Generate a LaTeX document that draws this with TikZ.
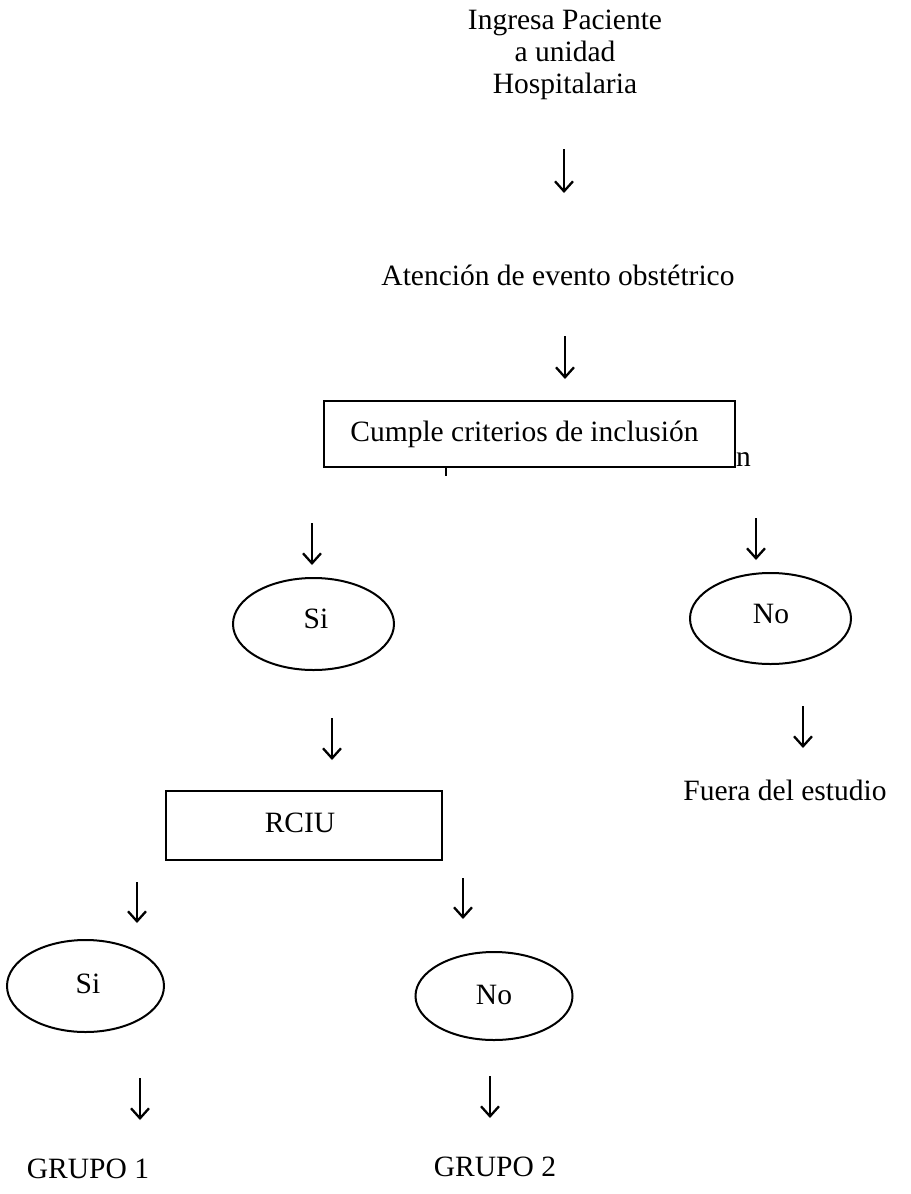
\documentclass[tikz,border=0pt]{standalone}
\usepackage{fontspec}
\setmainfont{Liberation Serif}
\usetikzlibrary{shapes.geometric,arrows.meta}
\begin{document}
\begin{tikzpicture}[x=1bp,y=-1bp,
  every node/.style={font=\fontsize{29.5bp}{32bp}\selectfont, inner sep=0pt},
  txt/.style={anchor=base},
  boxnode/.style={draw, line width=1.8bp, fill=white, rectangle},
  oval/.style={draw, line width=2bp, ellipse},
  arr/.style={line width=2.3bp, -{Straight Barb[length=10bp,width=18bp,line width=2.3bp]}}
]
\useasboundingbox (0,0) rectangle (911,1194);
% top text
\node[align=center, anchor=north] (ingresa) at (565,10) {Ingresa Paciente\\a unidad\\Hospitalaria};
\coordinate (a1s) at (564,149); \coordinate (a1e) at (564,193);
\draw[arr] (a1s) -- (a1e);
\node[txt] (atencion) at (558,285) {Atención de evento obstétrico};
\coordinate (a2s) at (565,336); \coordinate (a2e) at (565,379);
\draw[arr] (a2s) -- (a2e);
% fragment of a hidden line peeking out behind the box
\node[anchor=base west] (hiddenn) at (736,466) {n};
\node[boxnode, minimum width=411bp, minimum height=66bp] (cumple) at (529.5,434) {};
\coordinate (pdesc1) at (446,468); \coordinate (pdesc2) at (446,476);
\draw[line width=2bp] (pdesc1) -- (pdesc2);
\node[txt] (cumpletxt) at (524.5,441) {Cumple criterios de inclusión};
% branches
\coordinate (a3s) at (312,523); \coordinate (a3e) at (312,565);
\draw[arr] (a3s) -- (a3e);
\coordinate (a4s) at (756,518); \coordinate (a4e) at (756,560);
\draw[arr] (a4s) -- (a4e);
\node[oval, minimum width=161bp, minimum height=92bp] (si1) at (313.5,624) {};
\node[txt] (si1t) at (316,628) {Si};
\node[oval, minimum width=161bp, minimum height=91bp] (no1) at (770.5,618.5) {};
\node[txt] (no1t) at (771,623) {No};
\coordinate (a5s) at (332,718); \coordinate (a5e) at (332,760);
\draw[arr] (a5s) -- (a5e);
\coordinate (a6s) at (803,706); \coordinate (a6e) at (803,748);
\draw[arr] (a6s) -- (a6e);
\node[txt] (fuera) at (785,800) {Fuera del estudio};
% RCIU
\node[boxnode, minimum width=276bp, minimum height=69bp] (rciu) at (304,825.5) {};
\node[txt] (rciut) at (300,832) {RCIU};
\coordinate (a7s) at (137,882); \coordinate (a7e) at (137,923);
\draw[arr] (a7s) -- (a7e);
\coordinate (a8s) at (463,878); \coordinate (a8e) at (463,919);
\draw[arr] (a8s) -- (a8e);
\node[oval, minimum width=157bp, minimum height=92bp] (si2) at (85.5,986) {};
\node[txt] (si2t) at (88,993) {Si};
\node[oval, minimum width=157bp, minimum height=88bp] (no2) at (494,996) {};
\node[txt] (no2t) at (494,1004) {No};
\coordinate (a9s) at (140,1078); \coordinate (a9e) at (140,1120);
\draw[arr] (a9s) -- (a9e);
\coordinate (a10s) at (490,1076); \coordinate (a10e) at (490,1118);
\draw[arr] (a10s) -- (a10e);
\node[txt] (g1) at (88,1178) {GRUPO 1};
\node[txt] (g2) at (495,1176) {GRUPO 2};
\end{tikzpicture}
\end{document}
